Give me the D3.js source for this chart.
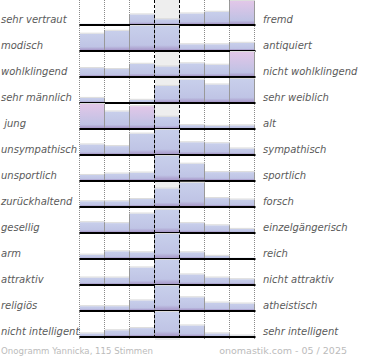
<!DOCTYPE html>
<html><head><meta charset="utf-8">
<script src="https://cdn.jsdelivr.net/npm/d3@7"></script>
<style>body{margin:0;background:#fff}svg{display:block}</style>
</head><body><svg id="c" width="370" height="360"></svg>
<script>
const leftLabels = ["sehr vertraut","modisch","wohlklingend","sehr männlich"," jung","unsympathisch","unsportlich","zurückhaltend","gesellig","arm","attraktiv","religiös","nicht intelligent"];
const rightLabels = ["fremd","antiquiert","nicht wohlklingend","sehr weiblich","alt","sympathisch","sportlich","forsch","einzelgängerisch","reich","nicht attraktiv","atheistisch","sehr intelligent"];
const columns = [1,2,3,4,5,6,7];
// share of votes per column (100 = full row height)
const vertraut     = [1, 1, 40, 20, 44, 51, 96];
const modisch      = [68, 80, 100, 100, 24, 24, 30];
const wohlklingend = [33, 29, 51, 40, 53, 47, 100];
const maennlich    = [17, 0, 9, 67, 93, 73, 96];
const jung         = [100, 69, 91, 47, 12, 9, 11];
const unsympathisch= [40, 33, 85, 100, 49, 45, 23];
const unsportlich  = [21, 27, 31, 100, 68, 33, 33];
const zurueck      = [20, 20, 29, 73, 97, 33, 27];
const gesellig     = [41, 37, 77, 92, 37, 28, 13];
const arm          = [14, 28, 24, 100, 24, 9, 1];
const attraktiv    = [27, 27, 69, 100, 40, 27, 20];
const religioes    = [16, 16, 40, 100, 53, 31, 27];
const intelligent  = [11, 24, 33, 100, 44, 11, 2];
const rows = [vertraut, modisch, wohlklingend, maennlich, jung, unsympathisch, unsportlich, zurueck, gesellig, arm, attraktiv, religioes, intelligent];
const pinkBars = [[0,6],[2,6],[4,0],[4,2]];
const footerLeft = "Onogramm Yannicka, 115 Stimmen";
const footerRight = "onomastik.com - 05 / 2025";

const svg = d3.select("#c");
const y = d3.scaleBand().domain(d3.range(rows.length)).range([0, 338]);
const x = d3.scaleBand().domain(d3.range(columns.length)).range([80, 255]);
const h = d3.scaleLinear().domain([0, 100]).range([0, 24]);
const base = i => y(i) + 24;
const bw = x.bandwidth();

const defs = svg.append("defs");
function grad(id, stops) {
  const g = defs.append("linearGradient").attr("id", id).attr("x1",0).attr("y1",0).attr("x2",0).attr("y2",1);
  stops.forEach(s => g.append("stop").attr("offset", s[0]).attr("stop-color", s[1]));
}
grad("gBlue", [["0%","#c8cfeb"],["80%","#bfc4e5"],["100%","#a797c8"]]);
grad("gPink", [["0%","#e2c7e8"],["45%","#d0c4e6"],["85%","#bfc2e4"],["100%","#a797c8"]]);

// center column background
svg.append("rect").attr("x", x(3)).attr("y", 0).attr("width", bw).attr("height", 340).attr("fill", "#eeeeee");

// dotted guide lines
const dotted = [0,1,2,5,6,7].map(k => 80 + k * bw);
svg.selectAll("line.dot").data(dotted).join("line")
  .attr("x1", d => d - 0.5).attr("x2", d => d - 0.5).attr("y1", 0).attr("y2", 339)
  .attr("stroke", "#8a8a8a").attr("stroke-width", 1).attr("stroke-dasharray", "1,1");

const isPink = (i, j) => pinkBars.some(p => p[0] === i && p[1] === j);

rows.forEach((vals, i) => {
  const g = svg.append("g");
  g.selectAll("rect.bar").data(vals).join("rect")
    .attr("x", (d, j) => x(j)).attr("y", d => base(i) - h(d))
    .attr("width", bw).attr("height", d => h(d))
    .attr("fill", (d, j) => isPink(i, j) ? "url(#gPink)" : "url(#gBlue)");
  // top highlight
  vals.forEach((d, j) => {
    if (d <= 1) return;
    g.append("line").attr("x1", x(j)).attr("x2", x(j) + bw)
      .attr("y1", base(i) - h(d) - 0.5).attr("y2", base(i) - h(d) - 0.5)
      .attr("stroke", "#dcdcdc").attr("stroke-width", 1);
  });
  // edges between bars
  d3.range(1, columns.length + 1).forEach(k => {
    const left = vals[k - 1], right = k < columns.length ? vals[k] : 0;
    const m = Math.max(left, right);
    if (m <= 1) return;
    const xx = x(k - 1) + bw - 0.5;
    g.append("line").attr("x1", xx).attr("x2", xx)
      .attr("y1", base(i)).attr("y2", base(i) - h(m))
      .attr("stroke", "#999").attr("stroke-width", 1);
  });
  // baseline
  g.append("rect").attr("x", 79.5).attr("y", base(i)).attr("width", 176).attr("height", 2).attr("fill", "#000");
  // labels
  svg.append("text").attr("x", 1).attr("y", base(i) - 1)
    .attr("xml:space", "preserve").style("white-space", "pre")
    .attr("font-family", "DejaVu Sans").attr("font-style", "italic").attr("font-size", 10)
    .attr("fill", "#5a5a5a").text(leftLabels[i]);
  svg.append("text").attr("x", 263).attr("y", base(i) - 1)
    .attr("font-family", "DejaVu Sans").attr("font-style", "italic").attr("font-size", 10)
    .attr("fill", "#5a5a5a").text(rightLabels[i]);
});

// dashed center lines
[3, 4].forEach(k => {
  svg.append("line").attr("x1", x(k) - 0.5).attr("x2", x(k) - 0.5).attr("y1", 0).attr("y2", 340)
    .attr("stroke", "#000").attr("stroke-width", 1).attr("stroke-dasharray", "3,2");
});

svg.append("text").attr("x", 1).attr("y", 354).attr("font-family", "DejaVu Sans").attr("font-size", 8.6)
  .attr("fill", "#bbbbbb").text(footerLeft);
svg.append("text").attr("x", 347).attr("y", 354).attr("text-anchor", "end").attr("font-family", "DejaVu Sans").attr("font-size", 9.5)
  .attr("fill", "#bbbbbb").text(footerRight);
</script></body></html>
